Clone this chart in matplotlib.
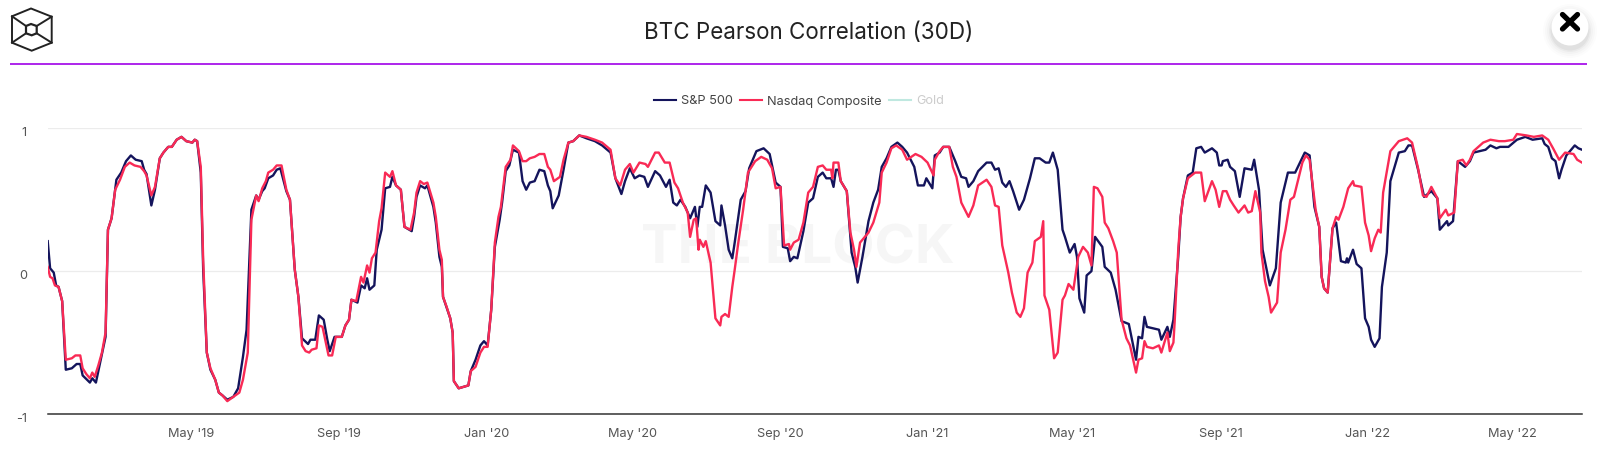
#!/usr/bin/env python3
"""BTC Pearson correlation (30D) against S&P 500, Nasdaq and Gold."""
import matplotlib
matplotlib.use("Agg")
import matplotlib.dates as mdates
import matplotlib.pyplot as plt
import matplotlib.transforms as mtrans
import pandas as pd
from matplotlib.lines import Line2D
from matplotlib.patches import Circle, Polygon

plt.rcParams["font.family"] = ["Inter", "DejaVu Sans"]

START = pd.Timestamp("2019-01-02")

# days since START
SP_DAYS = [0, 2, 5, 7, 9, 12, 15, 20, 24, 27, 29, 35, 37, 40, 44, 48, 50, 53, 57, 61, 65, 69, 73, 78, 80, 82, 86, 89, 93, 96, 100, 103, 107, 111, 115, 120, 122, 124, 127, 129, 132, 135, 139, 142, 145, 149, 154, 158, 162, 165, 169, 173, 175, 178, 180, 183, 187, 190, 193, 198, 201, 205, 208, 211, 216, 218, 222, 225, 229, 232, 234, 238, 244, 247, 250, 252, 257, 260, 263, 265, 267, 271, 273, 277, 280, 284, 286, 289, 293, 296, 302, 304, 306,
           309, 313, 315, 320, 322, 325, 327, 328, 334, 336, 337, 341, 345, 349, 351, 355, 359, 362, 365, 368, 371, 375, 377, 380, 383, 386, 391, 394, 397, 400, 404, 408, 412, 415, 417, 419, 424, 428, 432, 436, 441, 447, 454, 460, 467, 471, 476, 479, 483, 487, 491, 495, 498, 504, 508, 513, 516, 519, 522, 525, 529, 533, 537, 539, 541, 543, 546, 550, 554, 558, 559, 562, 565, 568, 570, 575, 579, 582, 588, 594, 599, 604, 608, 610, 614, 616, 619, 622, 627, 631, 635, 639,
           643, 646, 650, 652, 654, 656, 658, 663, 667, 670, 672, 676, 681, 685, 689, 692, 696, 700, 705, 709, 713, 719, 722, 727, 729, 734, 736, 740, 743, 748, 753, 758, 762, 764, 768, 772, 779, 783, 786, 789, 792, 795, 798, 801, 806, 810, 815, 819, 823, 828, 831, 834, 838, 842, 844, 848, 852, 854, 856, 860, 862, 866, 869, 875, 877, 882, 886, 891, 897, 903, 905, 908, 910, 912, 922, 924, 929, 931, 934, 938, 940, 942, 946, 950, 953, 957, 960, 966, 970, 972,
           974, 975, 979, 981, 985, 989, 993, 999, 1001, 1005, 1008, 1014, 1019, 1023, 1029, 1035, 1043, 1047, 1051, 1055, 1057, 1059, 1062, 1066, 1069, 1073, 1077, 1078, 1079, 1083, 1086, 1090, 1093, 1096, 1098, 1101, 1105, 1107, 1111, 1114, 1121, 1126, 1129, 1132, 1137, 1142, 1148, 1153, 1155, 1161, 1162, 1166, 1170, 1176, 1180, 1183, 1193, 1197, 1202, 1205, 1212, 1219, 1226, 1232, 1240, 1242, 1245, 1248, 1251, 1254, 1256, 1260, 1267, 1270, 1273]
SP_VALUES = [.21, .02, -.01, -.10, -.11, -.21, -.69, -.68, -.65, -.65, -.73, -.78, -.75, -.78, -.62, -.46, .29, .37, .64, .69, .77, .81, .78, .77, .71, .68, .46, .57, .79, .83, .87, .87, .92, .94, .91, .90, .92, .91, .69, .01, -.57, -.69, -.76, -.85, -.87, -.90, -.88, -.82, -.60, -.41, .43, .53, .50, .56, .58, .65, .67, .71, .72, .56, .50, .01, -.18, -.47, -.51, -.48, -.48, -.31, -.34, -.48, -.56, -.46, -.46, -.38, -.34, -.20, -.22, -.10, -.12, -.05, -.13, -.10, .15, .29, .58, .59, .66, .60, .57, .31, .28, .38, .52,
             .60, .58, .60, .45, .34, .10, .03, -.18, -.33, -.43, -.77, -.82, -.81, -.80, -.70, -.62, -.52, -.49, -.52, -.27, .17, .36, .48, .70, .74, .85, .83, .63, .57, .62, .63, .71, .70, .60, .56, .44, .53, .71, .90, .91, .95, .93, .91, .88, .83, .65, .54, .63, .72, .65, .67, .66, .59, .70, .67, .59, .64, .48, .46, .50, .45, .37, .45, .31, .45, .45, .60, .55, .35, .32, .46, .32, .15, .09, .20, .50, .56, .72, .84, .86, .82, .62, .59, .17, .16, .07, .10, .09, .28, .48, .51, .66,
             .69, .65, .65, .59, .71, .71, .63, .56, .13, .03, -.08, .10, .35, .48, .57, .73, .79, .87, .90, .87, .83, .73, .60, .60, .65, .58, .81, .83, .87, .87, .77, .66, .65, .59, .63, .70, .76, .76, .71, .72, .62, .59, .63, .56, .43, .50, .65, .79, .79, .76, .76, .83, .71, .29, .24, .13, .19, .10, -.19, -.29, -.03, 0, .24, .17, .03, -.01, -.13, -.35, -.37, -.62, -.46, -.47, -.32, -.39, -.41, -.48, -.39, -.46, -.34, .10, .38, .51, .67, .69, .86, .87, .83, .86, .83, .74,
             .74, .77, .78, .73, .70, .52, .72, .71, .78, .57, .15, -.10, .02, .48, .69, .69, .83, .81, .45, .31, -.04, -.12, -.15, .30, .34, .07, .06, .09, .06, .15, .05, .02, -.33, -.39, -.48, -.53, -.47, -.11, .13, .63, .83, .84, .88, .88, .71, .52, .56, .51, .29, .35, .32, .35, .77, .73, .77, .83, .85, .88, .86, .87, .87, .92, .94, .92, .93, .89, .87, .79, .77, .65, .71, .81, .88, .86, .85]

NQ_DAYS = [0, 2, 4, 6, 9, 12, 15, 20, 23, 27, 29, 32, 35, 37, 39, 42, 45, 48, 50, 53, 56, 60, 64, 68, 72, 77, 80, 82, 86, 89, 93, 96, 100, 103, 107, 111, 115, 120, 122, 124, 127, 129, 132, 135, 139, 142, 145, 149, 154, 159, 162, 166, 169, 173, 175, 178, 181, 183, 187, 190, 194, 198, 201, 205, 208, 211, 214, 217, 219, 223, 225, 228, 233, 236, 239, 244, 247, 250, 252, 256, 260, 262, 265, 267, 269, 272, 275, 277, 280, 284, 286, 289, 293, 296, 301, 304, 306, 309,
           312, 315, 320, 322, 325, 327, 328, 331, 334, 336, 337, 341, 345, 349, 351, 355, 359, 362, 365, 368, 371, 374, 376, 380, 384, 386, 391, 394, 397, 400, 404, 408, 412, 415, 417, 420, 425, 428, 432, 436, 441, 447, 454, 460, 467, 471, 475, 479, 483, 486, 491, 496, 498, 504, 507, 512, 516, 520, 523, 527, 531, 533, 536, 538, 540, 541, 544, 546, 550, 554, 558, 559, 562, 565, 568, 570, 573, 577, 581, 587, 592, 597, 601, 604, 608, 611, 615, 616, 619, 623, 627, 631, 635, 639,
           643, 646, 650, 651, 652, 656, 658, 663, 666, 669, 671, 674, 677, 681, 685, 690, 692, 696, 700, 704, 709, 713, 720, 725, 730, 735, 736, 740, 743, 748, 751, 754, 758, 764, 768, 772, 779, 783, 786, 789, 792, 797, 800, 804, 807, 810, 813, 817, 819, 824, 826, 827, 831, 835, 838, 842, 844, 847, 851, 855, 859, 863, 866, 868, 871, 875, 877, 880, 884, 887, 891, 895, 898, 903, 905, 908, 910, 912, 917, 922, 924, 929, 931, 934, 935, 938, 940, 942, 946, 952, 957, 960, 966, 969, 972,
           975, 978, 981, 984, 988, 993, 996, 999, 1002, 1006, 1007, 1010, 1013, 1015, 1020, 1023, 1027, 1031, 1034, 1041, 1044, 1047, 1052, 1055, 1057, 1059, 1062, 1066, 1069, 1071, 1075, 1079, 1083, 1084, 1090, 1093, 1096, 1098, 1101, 1104, 1106, 1108, 1114, 1121, 1128, 1132, 1137, 1141, 1144, 1148, 1153, 1155, 1160, 1162, 1167, 1170, 1174, 1177, 1180, 1183, 1191, 1197, 1204, 1209, 1216, 1219, 1227, 1233, 1240, 1245, 1249, 1254, 1259, 1266, 1269, 1273]
NQ_VALUES = [.03, -.04, -.05, -.10, -.11, -.21, -.62, -.61, -.59, -.59, -.68, -.72, -.75, -.71, -.74, -.66, -.57, -.43, .29, .37, .57, .64, .73, .76, .74, .73, .70, .67, .53, .59, .79, .83, .87, .87, .92, .94, .91, .90, .92, .91, .73, .08, -.57, -.68, -.76, -.85, -.87, -.91, -.88, -.85, -.76, -.57, .36, .53, .49, .58, .63, .69, .71, .74, .74, .57, .50, .01, -.18, -.52, -.56, -.57, -.55, -.54, -.38, -.39, -.59, -.59, -.46, -.46, -.38, -.34, -.20, -.21, -.04, -.08, .04, -.01, .09, .13, .35, .44, .69, .66, .70, .60, .57, .31, .29, .41, .55, .63,
             .61, .62, .48, .38, .15, .08, -.18, -.25, -.33, -.43, -.77, -.82, -.81, -.80, -.70, -.67, -.57, -.53, -.53, -.27, .20, .38, .45, .73, .78, .88, .84, .77, .77, .79, .80, .82, .82, .73, .71, .63, .66, .78, .90, .91, .95, .94, .92, .90, .85, .65, .60, .71, .75, .69, .76, .75, .73, .83, .83, .76, .76, .62, .58, .48, .41, .24, .36, .37, .15, .22, .17, .21, .06, -.33, -.38, -.32, -.30, -.32, -.11, .01, .20, .43, .69, .77, .80, .78, .72, .58, .59, .18, .19, .15, .20, .22, .34, .55, .59, .73,
             .74, .71, .71, .65, .76, .76, .63, .56, .27, .15, .03, .20, .23, .27, .34, .48, .69, .76, .86, .88, .85, .78, .82, .80, .76, .67, .78, .84, .87, .87, .73, .66, .48, .38, .46, .60, .64, .59, .46, .45, .18, -.01, -.15, -.29, -.32, -.26, -.01, .06, .21, .24, .35, -.17, -.27, -.61, -.57, -.20, -.17, -.09, -.13, .10, .17, .13, .04, .59, .58, .52, .34, .30, .21, .13, -.34, -.47, -.52, -.71, -.62, -.61, -.49, -.53, -.54, -.52, -.57, -.43, -.56, -.50, -.36, .15, .38, .51, .65, .69, .69, .49, .63, .57, .45,
             .56, .56, .50, .46, .41, .46, .41, .42, .56, .41, .13, -.07, -.18, -.29, -.22, .13, .29, .50, .52, .76, .81, .78, .43, .31, -.04, -.12, -.15, .30, .38, .36, .45, .58, .63, .60, .59, .34, .25, .14, .23, .29, .27, .55, .84, .91, .93, .90, .72, .53, .52, .59, .51, .37, .43, .39, .41, .77, .78, .74, .78, .84, .90, .92, .91, .91, .92, .96, .95, .94, .95, .92, .86, .78, .83, .82, .78, .76]

LABELS = ["S&P 500", "Nasdaq Composite", "Gold"]
C_SP = "#14145c"; C_NQ = "#f92a55"; C_GOLD = "#bfe8e0"
C_TEXT = "#555555"; C_GRID = "#ececec"; C_RULE = "#a000e8"
W, H = 1600, 449


def to_dates(days):
    return START + pd.to_timedelta(days, unit="D")


fig = plt.figure(figsize=(W / 100, H / 100), dpi=100, facecolor="white")

# page furniture sits in an overlay using pixel coordinates
page = fig.add_axes([0, 0, 1, 1], zorder=0)
page.set_xlim(0, W); page.set_ylim(H, 0); page.axis("off")

page.text(808.5, 33, "BTC Pearson Correlation (30D)", ha="center", va="center",
          fontsize=16.15, color="#222222")
page.text(798, 250, "THE BLOCK", ha="center", va="center", fontsize=39.5,
          fontweight="bold", color="#f6f6f6")
page.plot([10, 1587], [64.3, 64.3], color=C_RULE, lw=1.2, solid_capstyle="butt")

# logo
outer = [(31, 8.5), (51.7, 16.7), (51.7, 42.7), (31.7, 50.7), (12, 42.7), (12, 16.3)]
inner = [(31, 24), (36.7, 26), (36.7, 33.3), (31.7, 35.3), (26, 33.3), (26, 26)]
page.add_patch(Polygon(outer, closed=True, fc="none", ec="#222222", lw=1.4))
page.add_patch(Polygon(inner, closed=True, fc="none", ec="#222222", lw=1.6))
for i in (1, 2, 4, 5):
    page.plot([outer[i][0], inner[i][0]], [outer[i][1], inner[i][1]], color="#222222", lw=1.4)

# close button with a soft shadow
for r, a in [(27, .012), (25, .015), (23, .02), (21, .03), (19.5, .04)]:
    page.add_patch(Circle((1570, 31), r, fc="black", ec="none", alpha=a))
page.add_patch(Circle((1570, 27), 18.5, fc="white", ec="none"))
page.plot([1562.5, 1577.5], [14.5, 29], color="black", lw=3.8, solid_capstyle="round")
page.plot([1577.5, 1562.5], [14.5, 29], color="black", lw=3.8, solid_capstyle="round")

# chart
left, right, top, bottom = 47.7, 1582, 128.3, 414
ax = fig.add_axes([left / W, 1 - bottom / H, (right - left) / W, (bottom - top) / H], zorder=1)
ax.patch.set_alpha(0)
ax.plot(to_dates(SP_DAYS), SP_VALUES, color=C_SP, lw=1.7, solid_joinstyle="round")
ax.plot(to_dates(NQ_DAYS), NQ_VALUES, color=C_NQ, lw=1.7, solid_joinstyle="round")

ax.set_xlim(START, START + pd.Timedelta(days=1273))
ax.set_ylim(-1, 1)
ax.set_yticks([-1, 0, 1])
ax.set_yticklabels(["-1", "0", "1"])
ax.xaxis.set_major_locator(mdates.MonthLocator(bymonth=(1, 5, 9)))
ax.xaxis.set_major_formatter(mdates.DateFormatter("%b '%y"))
ax.tick_params(axis="x", length=0, pad=10.3, labelsize=9.2, labelcolor=C_TEXT)
ax.tick_params(axis="y", length=0, pad=15, labelsize=9.2, labelcolor=C_TEXT)
shift = mtrans.ScaledTranslation(0, -2.4 / 72, fig.dpi_scale_trans)
for lab in ax.get_yticklabels():
    lab.set_transform(lab.get_transform() + shift)
ax.grid(axis="y", color=C_GRID, lw=0.9)
ax.set_axisbelow(True)
for side in ("top", "left", "right"):
    ax.spines[side].set_visible(False)
ax.spines["bottom"].set_color("#333333")
ax.spines["bottom"].set_linewidth(1.1)

handles = [Line2D([], [], color=c, lw=1.5) for c in (C_SP, C_NQ, C_GOLD)]
leg = fig.legend(handles, LABELS, loc="center", bbox_to_anchor=(799 / W, 1 - 101.5 / H), ncol=3,
                 frameon=False, fontsize=9.2, handlelength=1.7, handletextpad=0.42,
                 columnspacing=0.55, borderpad=0, labelcolor=["#444444", "#444444", "#cccccc"])
fig.savefig("out.png", dpi=100, facecolor="white")
